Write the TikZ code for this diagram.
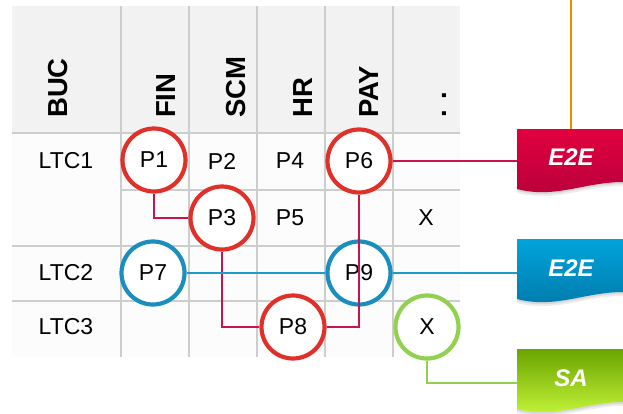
\documentclass[tikz,border=0pt]{standalone}
\usepackage{fontspec}
\setmainfont{Liberation Sans}
\definecolor{cred}{HTML}{E0302A}
\definecolor{cblue}{HTML}{1A8FBE}
\definecolor{cgreen}{HTML}{92D050}
\definecolor{lnred}{HTML}{C8144B}
\definecolor{lnblue}{HTML}{1E9BC8}
\definecolor{gridc}{HTML}{CDCDCD}
\definecolor{hdrbg}{HTML}{F2F2F2}
\definecolor{bodybg}{HTML}{FCFCFC}
\definecolor{orangec}{HTML}{F08C00}
\definecolor{redtop}{HTML}{E2003F}
\definecolor{redbot}{HTML}{B6003A}
\definecolor{bluetop}{HTML}{00A4DB}
\definecolor{bluebot}{HTML}{0079AA}
\definecolor{greentop}{HTML}{6AA400}
\definecolor{greenbot}{HTML}{C9F93C}
\newcommand\flagshape{(517,0) -- (690,0) -- (690,53) -- (623,53) .. controls (585,53) and (555,70) .. (517,60) -- cycle}
\newcommand\drawflag[3]{%
  \begin{scope}[shift={(0,#1+4)}]\fill[black,opacity=0.07] \flagshape;\end{scope}
  \begin{scope}[shift={(0,#1+2)}]\fill[black,opacity=0.09] \flagshape;\end{scope}
  \begin{scope}[shift={(0,#1)}]\shade[top color=#2,bottom color=#3] \flagshape;\end{scope}}
\tikzset{
  gridline/.style={gridc,line width=2pt},
  celltxt/.style={inner sep=0pt,font=\fontsize{23}{27}\selectfont},
  hdr/.style={rotate=90,anchor=base west,inner sep=0pt,font=\fontsize{27.5}{30}\selectfont\bfseries},
  ring/.style={circle,draw=#1,fill=white,line width=4.2pt,minimum size=63pt,inner sep=0pt,font=\fontsize{23}{27}\selectfont},
  conn/.style={line width=1.4pt,#1},
  flaglbl/.style={inner sep=0pt,text=white,font=\fontsize{24}{28}\selectfont\bfseries\itshape},
}
\begin{document}
\begin{tikzpicture}[x=1pt,y=-1pt]
\useasboundingbox (0,0) rectangle (623,413);
% table background
\fill[hdrbg] (12,6) rectangle (460,133);
\fill[bodybg] (12,133) rectangle (460,357);
% grid
\foreach \x in {121,189,257,325,393} \draw[gridline] (\x,6) -- (\x,357);
\draw[gridline] (12,133) -- (460,133);
\draw[gridline] (121,190) -- (460,190);
\draw[gridline] (12,246) -- (460,246);
\draw[gridline] (12,301) -- (460,301);
% headers
\node[hdr] (hBUC) at (67,118) {BUC};
\node[hdr] (hFIN) at (175,118) {FIN};
\node[hdr] (hSCM) at (245,118) {SCM};
\node[hdr] (hHR) at (312,118) {HR};
\node[hdr] (hPAY) at (378,118) {PAY};
\node[hdr] (hDots) at (446,118) {. .};
% row labels and plain cells
\node[celltxt] (LTC1) at (66,161) {LTC1};
\node[celltxt] (LTC2) at (66,273) {LTC2};
\node[celltxt] (LTC3) at (66,327) {LTC3};
\node[celltxt] (P2) at (222,161) {P2};
\node[celltxt] (P4) at (290,161) {P4};
\node[celltxt] (P5) at (290,218) {P5};
\node[celltxt] (X1) at (426,218) {X};
% flags
\begin{scope}
\clip (0,0) rectangle (623,413);
\drawflag{129}{redtop}{redbot}
\drawflag{239}{bluetop}{bluebot}
\drawflag{349}{greentop}{greenbot}
\end{scope}
\node[flaglbl] (F1) at (571,157) {E2E};
\node[flaglbl] (F2) at (571,268) {E2E};
\node[flaglbl] (F3) at (571,378) {SA};
\coordinate (F1in) at (517,161);
\coordinate (F2in) at (517,273);
\coordinate (F3in) at (517,383);
\coordinate (F1top) at (571,129);
\coordinate (Otop) at (571,0);
% circled cells
\node[ring=cred] (P1) at (154,160) {P1};
\node[ring=cred] (P3) at (222,218) {P3};
\node[ring=cred] (P6) at (359,161) {P6};
\node[ring=cblue] (P7) at (153,273) {P7};
\node[ring=cblue] (P9) at (359,273) {P9};
\node[ring=cred] (P8) at (293,327) {P8};
\node[ring=cgreen] (X2) at (427,327) {X};
% connectors
\draw[orangec,line width=2.5pt] (Otop) -- (F1top);
\draw[conn=lnred] (P1.south) |- (P3.west);
\draw[conn=lnred] (P3.south) |- (P8.west);
\draw[conn=lnred] (P8.east) -| (P6.south);
\draw[conn=lnred] (P6.east) -- (F1in);
\draw[conn=lnblue] (P7.east) -- (P9.west);
\draw[conn=lnblue] (P9.east) -- (F2in);
\draw[conn=cgreen] (X2.south) |- (F3in);
\end{tikzpicture}
\end{document}
